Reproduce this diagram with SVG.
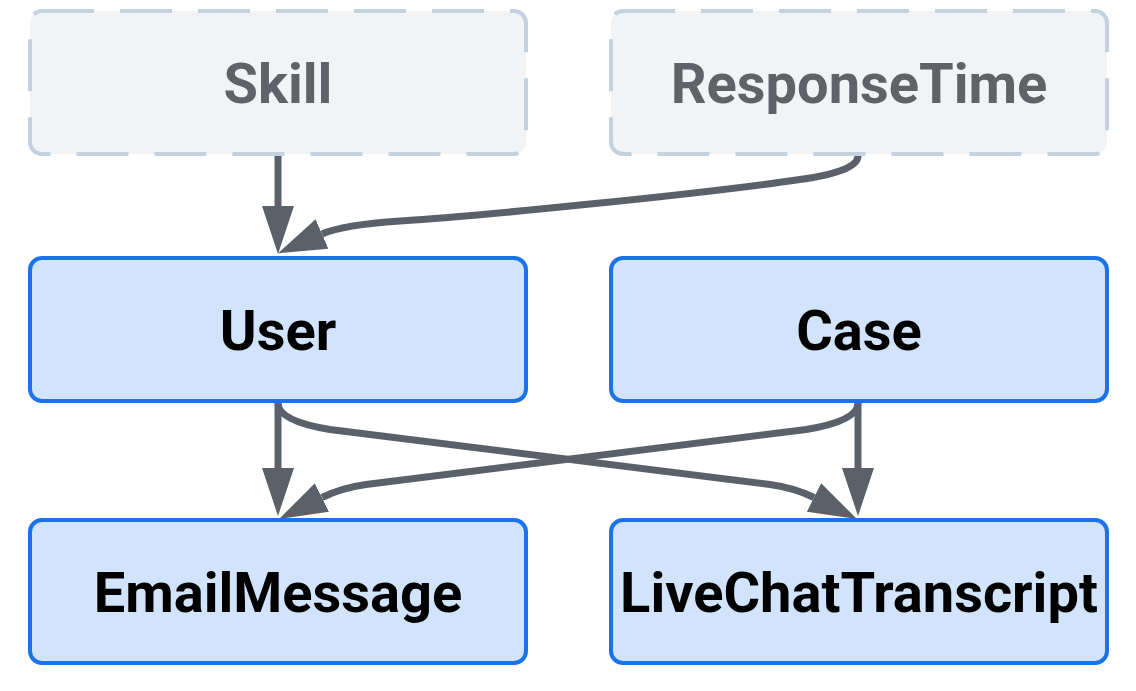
<svg xmlns="http://www.w3.org/2000/svg" width="1136" height="691" viewBox="0 0 1136 691">
  <defs>
    <style>
      .ext rect { fill: #f1f3f4; stroke: #c3d1e0; stroke-width: 4; stroke-dasharray: 52 26; }
      .ext text { fill: #5f6368; }
      .ent rect { fill: #d2e3fc; stroke: #1a73e8; stroke-width: 4; }
      .ent text { fill: #000000; }
      text { font-family: Roboto, "Liberation Sans", sans-serif; font-weight: 700; font-size: 56px; text-anchor: middle; }
      .edge { fill: none; stroke: #5b616b; stroke-width: 7; marker-end: url(#arrow); }
    </style>
    <marker id="arrow" markerUnits="userSpaceOnUse" markerWidth="50" markerHeight="34" viewBox="0 -17 50 34" refX="0" refY="0" orient="auto">
      <path d="M0,-16 L48,0 L0,16 z" fill="#5b616b"/>
    </marker>
  </defs>
  <rect width="1136" height="691" fill="#ffffff"/>

  <g id="connectors">
    <path class="edge" d="M278,156 L278,206"/>
    <path class="edge" d="M858,156 C858,168 830,175.5 800,179.5 C700,194 480,216 400,221 C370,223 338,227 322,234"/>
    <path class="edge" d="M278,403 L278,468"/>
    <path class="edge" d="M858,403 L858,468"/>
    <path class="edge" d="M278,403 Q278,421 330,429.5 L770,484.5 Q795,488 814,497.5"/>
    <path class="edge" d="M858,403 Q858,421 806,429.5 L366,484.5 Q341,488 322,497.5"/>
  </g>

  <g id="node-skill" class="ext">
    <rect x="30" y="11" width="496" height="143" rx="12"/>
    <text x="278" y="102.5">Skill</text>
  </g>
  <g id="node-responsetime" class="ext">
    <rect x="611" y="11" width="496" height="143" rx="12"/>
    <text x="859" y="102.5">ResponseTime</text>
  </g>
  <g id="node-user" class="ent">
    <rect x="30" y="258" width="496" height="143" rx="12"/>
    <text x="278" y="349.5">User</text>
  </g>
  <g id="node-case" class="ent">
    <rect x="611" y="258" width="496" height="143" rx="12"/>
    <text x="859" y="349.5">Case</text>
  </g>
  <g id="node-emailmessage" class="ent">
    <rect x="30" y="520" width="496" height="143" rx="12"/>
    <text x="278" y="611.5">EmailMessage</text>
  </g>
  <g id="node-livechattranscript" class="ent">
    <rect x="611" y="520" width="496" height="143" rx="12"/>
    <text x="859" y="611.5">LiveChatTranscript</text>
  </g>
</svg>
